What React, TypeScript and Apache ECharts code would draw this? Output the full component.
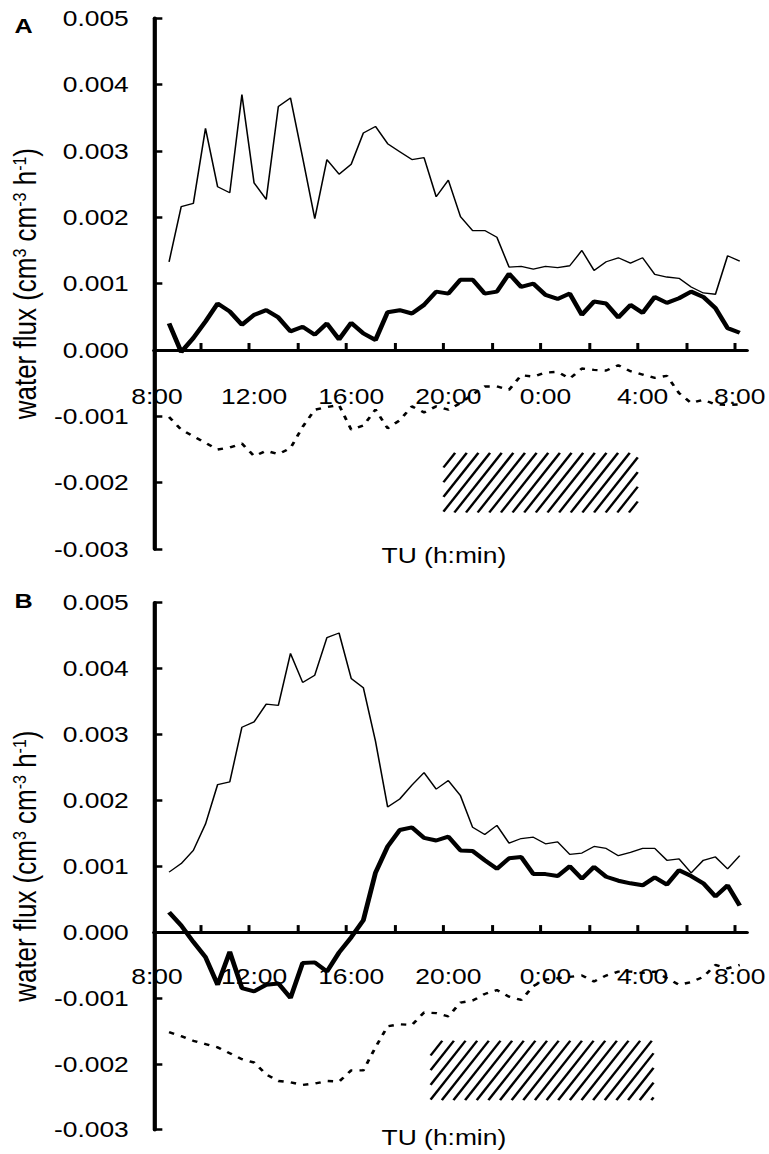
import React, { useEffect, useRef } from "react";
import * as echarts from "echarts";

// ---- data (hours after 8:00, values in cm3 cm-3 h-1) ----
const TIMES: number[] = Array.from({ length: 48 }, (_, i) => 0.5 * (i + 1));
const X_LABELS = ["8:00", "12:00", "16:00", "20:00", "0:00", "4:00", "8:00"];
const LABEL_HOURS = [0, 4, 8, 12, 16, 20, 24];
const TICK_HOURS = Array.from({ length: 12 }, (_, k) => 1.8 + 2 * k);

const A_THIN = [0.00133, 0.00216, 0.00221, 0.00334, 0.00246, 0.00237, 0.00385, 0.00252, 0.00227, 0.00367,
  0.0038, 0.0029, 0.00198, 0.00287, 0.00265, 0.0028, 0.00327, 0.00337, 0.00311, 0.00299,
  0.00287, 0.0029, 0.00231, 0.00256, 0.00201, 0.0018, 0.0018, 0.0017, 0.00125, 0.00126,
  0.00122, 0.00126, 0.00124, 0.00127, 0.0015, 0.0012, 0.00133, 0.00139, 0.00131, 0.00139,
  0.00114, 0.0011, 0.00108, 0.00095, 0.00086, 0.00084, 0.00142, 0.00134];
const A_THICK = [0.0004, -0.00003, 0.00018, 0.00043, 0.0007, 0.00058, 0.00038, 0.00053, 0.0006, 0.00049,
  0.00028, 0.00035, 0.00023, 0.0004, 0.00016, 0.00041, 0.00025, 0.00015, 0.00057, 0.0006,
  0.00055, 0.00068, 0.00088, 0.00085, 0.00106, 0.00106, 0.00085, 0.00088, 0.00115, 0.00095,
  0.001, 0.00083, 0.00077, 0.00085, 0.00053, 0.00073, 0.0007, 0.00049, 0.00068, 0.00056,
  0.0008, 0.00071, 0.00078, 0.00088, 0.0008, 0.00063, 0.00033, 0.00026];
const A_DASH = [-0.00101, -0.0012, -0.0013, -0.0014, -0.0015, -0.00147, -0.00141, -0.0016, -0.00152, -0.00157,
  -0.00148, -0.00116, -0.0009, -0.00086, -0.00083, -0.0012, -0.00114, -0.0009, -0.00118, -0.00106,
  -0.00085, -0.00094, -0.00085, -0.0009, -0.0008, -0.00067, -0.00055, -0.00055, -0.0006, -0.00038,
  -0.0004, -0.00034, -0.00033, -0.00043, -0.00028, -0.0003, -0.00031, -0.00023, -0.00032, -0.00037,
  -0.00042, -0.00039, -0.00065, -0.0008, -0.00075, -0.00082, -0.00083, -0.00082];

const B_THIN = [0.00091, 0.00104, 0.00124, 0.00164, 0.00224, 0.00228, 0.00311, 0.00319, 0.00346, 0.00344,
  0.00423, 0.00379, 0.0039, 0.00447, 0.00454, 0.00385, 0.00371, 0.0029, 0.0019, 0.00202,
  0.00223, 0.00242, 0.00217, 0.0023, 0.00207, 0.00159, 0.00148, 0.00162, 0.00135, 0.00142,
  0.00144, 0.00134, 0.00137, 0.00118, 0.0012, 0.0013, 0.00127, 0.00116, 0.00121, 0.00127,
  0.00127, 0.00109, 0.00111, 0.0009, 0.00109, 0.00114, 0.00096, 0.00116];
const B_THICK = [0.0003, 0.0001, -0.00015, -0.00038, -0.0008, -0.0003, -0.00085, -0.0009, -0.0008, -0.00078,
  -0.001, -0.00047, -0.00046, -0.0006, -0.00031, -0.00008, 0.00018, 0.0009, 0.0013, 0.00155,
  0.00159, 0.00143, 0.00139, 0.00145, 0.00124, 0.00123, 0.00109, 0.00096, 0.00112, 0.00114,
  0.00088, 0.00088, 0.00085, 0.001, 0.00081, 0.00099, 0.00084, 0.00078, 0.00074, 0.00071,
  0.00083, 0.00072, 0.00094, 0.00085, 0.00074, 0.00054, 0.00071, 0.0004];
const B_DASH = [-0.00152, -0.00158, -0.00165, -0.0017, -0.00175, -0.00184, -0.00193, -0.00198, -0.00216, -0.00226,
  -0.00228, -0.00232, -0.0023, -0.00226, -0.00227, -0.0021, -0.0021, -0.00175, -0.00143, -0.0014,
  -0.00141, -0.00122, -0.00123, -0.00128, -0.00107, -0.00104, -0.00094, -0.00088, -0.00098, -0.00103,
  -0.00082, -0.00072, -0.0007, -0.00068, -0.00066, -0.00075, -0.00066, -0.0006, -0.0006, -0.00062,
  -0.0006, -0.0007, -0.0008, -0.00076, -0.00068, -0.0005, -0.00055, -0.0005];

// night periods: [startHour, endHour, top value, bottom value]
const NIGHT_A = [11.8, 19.8, -0.00155, -0.00245];
const NIGHT_B = [11.27, 20.45, -0.00165, -0.00255];

const PANEL_LETTERS = ["A", "B"];
const X_TITLE = "TU (h:min)";
const Y_TITLE = "water flux (cm{sup|3} cm{sup|-3} h{sup|-1})";

// ---- layout ----
const K = 1.2; // horizontal stretch of the original figure
const W = 769 / K;
const H = 1154;
const FONT = '"Liberation Sans", Arial, Helvetica, sans-serif';
const X_MIN = -0.123;
const X_MAX = 24.303;
const Y_MIN = -0.003;
const Y_MAX = 0.005;

function pair(vals: number[]) {
  return vals.map((v, i) => [TIMES[i], v]);
}

function hatchRender(params: any, api: any) {
  const p0 = api.coord([api.value(0), api.value(2)]);
  const p1 = api.coord([api.value(1), api.value(3)]);
  const L = Math.min(p0[0], p1[0]);
  const R = Math.max(p0[0], p1[0]);
  const T = Math.min(p0[1], p1[1]);
  const B = Math.max(p0[1], p1[1]);
  const h = B - T;
  const r = 0.66;
  const d = 9.7;
  const children: any[] = [];
  for (let xb = L - r * h; xb < R; xb += d) {
    const t0 = Math.max(0, (L - xb) / r);
    const t1 = Math.min(h, (R - xb) / r);
    if (t1 <= t0) continue;
    children.push({
      type: "line",
      shape: { x1: xb + r * t0, y1: B - t0, x2: xb + r * t1, y2: B - t1 },
      style: { stroke: "#000", lineWidth: 2.1 },
    });
  }
  return { type: "group", children };
}

export default function App() {
  const ref = useRef<HTMLDivElement>(null);
  useEffect(() => {
    if (!ref.current) return;
    const chart = echarts.init(ref.current, null, { renderer: "svg", width: W, height: H });
    const grids = [
      { left: 152 / K, width: 596 / K, top: 18.3, height: 530.7 },
      { left: 152 / K, width: 596 / K, top: 602.7, height: 527 },
    ];
    // place the x axis on the zero line: offset = distance from the grid bottom to value 0
    const zeroOffsets = grids.map((gr) => -(gr.height * (0 - Y_MIN)) / (Y_MAX - Y_MIN));
    const labelMargins = [35, 33];
    const series: any[] = [];
    const panels = [
      { thin: A_THIN, thick: A_THICK, dash: A_DASH, night: NIGHT_A },
      { thin: B_THIN, thick: B_THICK, dash: B_DASH, night: NIGHT_B },
    ];
    panels.forEach((p, g) => {
      series.push({
        type: "custom", xAxisIndex: g, yAxisIndex: g, renderItem: hatchRender,
        encode: { x: [0, 1], y: [2, 3] }, data: [p.night], silent: true, z: 1,
      });
      series.push({
        type: "line", xAxisIndex: g, yAxisIndex: g, data: pair(p.thin), symbol: "none",
        lineStyle: { color: "#000", width: 1.3 }, z: 3,
      });
      series.push({
        type: "line", xAxisIndex: g, yAxisIndex: g, data: pair(p.thick), symbol: "none",
        lineStyle: { color: "#000", width: 4 }, z: 4,
      });
      series.push({
        type: "line", xAxisIndex: g, yAxisIndex: g, data: pair(p.dash), symbol: "none",
        lineStyle: { color: "#000", width: 2.4, type: [4.5, 6] }, z: 3,
      });
    });
    const option: any = {
      animation: false,
      backgroundColor: "#fff",
      title: [
        { text: PANEL_LETTERS[0], left: 12, top: 15, padding: 0, textStyle: { fontSize: 21, fontWeight: "bold", fontFamily: FONT, color: "#000" } },
        { text: PANEL_LETTERS[1], left: 12, top: 590, padding: 0, textStyle: { fontSize: 21, fontWeight: "bold", fontFamily: FONT, color: "#000" } },
        { text: X_TITLE, left: 318, top: 544, padding: 0, textStyle: { fontSize: 22, fontWeight: "normal", fontFamily: FONT, color: "#000" } },
        { text: X_TITLE, left: 318, top: 1126, padding: 0, textStyle: { fontSize: 22, fontWeight: "normal", fontFamily: FONT, color: "#000" } },
      ],
      grid: grids,
      xAxis: [0, 1].map((g) => ({
        gridIndex: g, type: "value", min: X_MIN, max: X_MAX, position: "bottom", offset: zeroOffsets[g],
        axisLine: { onZero: false, lineStyle: { color: "#000", width: 3 } },
        axisTick: { inside: true, length: 7, customValues: TICK_HOURS, lineStyle: { color: "#000", width: 2.5 } },
        axisLabel: {
          customValues: LABEL_HOURS,
          formatter: (v: number) => X_LABELS[Math.round(v / 4)],
          margin: labelMargins[g], fontSize: 22, fontFamily: FONT, color: "#000",
        },
        splitLine: { show: false },
      })),
      yAxis: [0, 1].map((g) => ({
        gridIndex: g, type: "value", min: Y_MIN, max: Y_MAX, interval: 0.001,
        axisLine: { onZero: false, lineStyle: { color: "#000", width: 3.5 } },
        axisTick: { inside: true, length: 7, lineStyle: { color: "#000", width: 2.5 } },
        axisLabel: {
          formatter: (v: number) => (Math.abs(v) < 1e-9 ? "0.000" : v.toFixed(3)),
          margin: 21, fontSize: 22, fontFamily: FONT, color: "#000",
        },
        splitLine: { show: false },
        name: Y_TITLE, nameLocation: "middle", nameRotate: 90, nameGap: 92,
        nameTextStyle: {
          fontSize: 26, fontFamily: FONT, color: "#000",
          rich: { sup: { fontSize: 16, fontFamily: FONT, color: "#000", verticalAlign: "top" } },
        },
      })),
      series,
    };
    chart.setOption(option);
    return () => chart.dispose();
  }, []);
  return (
    <div
      style={{ position: "absolute", left: 0, top: 0, width: W, height: H, transform: `scaleX(${K})`, transformOrigin: "0 0", background: "#fff" }}
    >
      <div ref={ref} style={{ width: W, height: H }} />
    </div>
  );
}
